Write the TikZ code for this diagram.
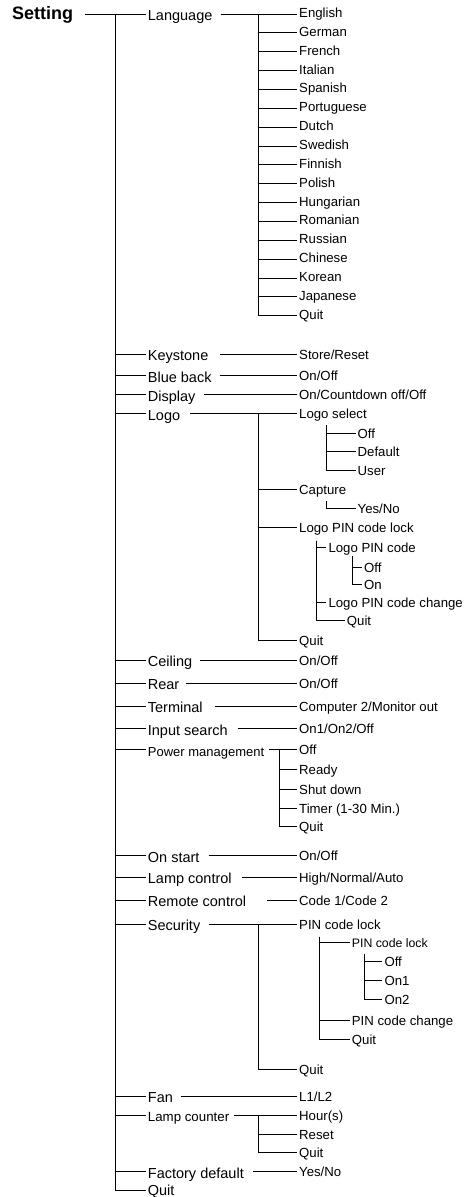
\documentclass[tikz,border=0pt]{standalone}
\usepackage{fontspec}
\setmainfont{Liberation Sans}
\begin{document}
\begin{tikzpicture}[x=1pt,y=-1pt,
  wire/.style={line width=0.9pt},
  lone/.style={anchor=west,inner xsep=2pt,inner ysep=0pt,font=\fontsize{14.5}{16}\selectfont,text height=13pt,text depth=0pt},
  ltwo/.style={anchor=west,inner xsep=2pt,inner ysep=0pt,font=\fontsize{13.2}{15}\selectfont,text height=10pt,text depth=0pt},
  llang/.style={ltwo,text height=9pt,text depth=2pt},
  rootbox/.style={anchor=west,inner xsep=0pt,inner ysep=0pt,font=\bfseries\fontsize{18}{20}\selectfont,text height=13pt,text depth=2.4pt}
]
\useasboundingbox (0,0) rectangle (475,1197);

% root
\node[rootbox] (set) at (12,14) {Setting};

% level 1
\node[lone] (lang) at (145.7,14) {Language};
\node[lone] (kst) at (145.7,354) {Keystone};
\node[lone] (blue) at (145.7,375.5) {Blue back};
\node[lone] (disp) at (145.7,394.5) {Display};
\node[lone] (logo) at (145.7,413.5) {Logo};
\node[lone] (ceil) at (145.7,660) {Ceiling};
\node[lone] (rear) at (145.7,683) {Rear};
\node[lone] (term) at (145.7,706) {Terminal};
\node[lone] (inp) at (145.7,728.5) {Input search};
\node[lone,font=\fontsize{13}{15}\selectfont] (pm) at (145.7,749.5) {Power management};
\node[lone] (ons) at (145.7,855.7) {On start};
\node[lone] (lamp) at (145.7,877) {Lamp control};
\node[lone] (rem) at (145.7,900) {Remote control};
\node[lone] (sec) at (145.7,924) {Security};
\node[lone] (fan) at (145.7,1096) {Fan};
\node[lone,font=\fontsize{13.3}{15}\selectfont] (lc) at (145.7,1115) {Lamp counter};
\node[lone] (fact) at (145.7,1171.5) {Factory default};
\node[lone,text height=10.5pt] (quit) at (145.7,1190) {Quit};

\coordinate (b0) at (115,14);
\draw[wire,shorten <=12pt] (set.east) -- (lang.west);
\foreach \n in {kst,blue,disp,logo,ceil,rear,term,inp,pm,ons,lamp,rem,sec,fan,lc,fact,quit}
  \draw[wire] (b0) |- (\n.west);

% language
\node[llang] (en) at (297,14) {English};
\node[llang] (de) at (297,32.9) {German};
\node[llang] (fr) at (297,51.7) {French};
\node[llang] (it) at (297,70.6) {Italian};
\node[llang] (es) at (297,89.4) {Spanish};
\node[llang] (pt) at (297,108.3) {Portuguese};
\node[llang] (nl) at (297,127.1) {Dutch};
\node[llang] (sv) at (297,146) {Swedish};
\node[llang] (fi) at (297,164.9) {Finnish};
\node[llang] (pl) at (297,183.7) {Polish};
\node[llang] (hu) at (297,202.6) {Hungarian};
\node[llang] (ro) at (297,221.4) {Romanian};
\node[llang] (ru) at (297,240.3) {Russian};
\node[llang] (zh) at (297,259.1) {Chinese};
\node[llang] (ko) at (297,278) {Korean};
\node[llang] (ja) at (297,296.8) {Japanese};
\node[llang] (lq) at (297,315.7) {Quit};
\coordinate (b1) at (258.3,14);
\draw[wire,shorten <=6pt] (lang.east) -- (en.west);
\foreach \n in {de,fr,it,es,pt,nl,sv,fi,pl,hu,ro,ru,zh,ko,ja,lq}
  \draw[wire] (b1) |- (\n.west);

% simple pairs
\node[ltwo] (store) at (297,354) {Store/Reset};
\draw[wire,shorten <=9pt] (kst.east) -- (store.west);
\node[ltwo] (blueo) at (297,375.5) {On/Off};
\draw[wire,shorten <=6pt] (blue.east) -- (blueo.west);
\node[ltwo] (dispo) at (297,394.5) {On/Countdown off/Off};
\draw[wire,shorten <=6.7pt] (disp.east) -- (dispo.west);

% logo
\node[ltwo] (lsel) at (297,413.5) {Logo select};
\node[ltwo] (lsoff) at (355.5,433.3) {Off};
\node[ltwo] (lsdef) at (355.5,451.7) {Default};
\node[ltwo] (lsuser) at (355.5,470.7) {User};
\node[ltwo] (capt) at (297,489) {Capture};
\node[ltwo] (yesno) at (355.5,508.3) {Yes/No};
\node[ltwo] (lpl) at (297,527.3) {Logo PIN code lock};
\node[ltwo] (lpc) at (326.3,547.3) {Logo PIN code};
\node[ltwo] (lpoff) at (362,567) {Off};
\node[ltwo] (lpon) at (362,584) {On};
\node[ltwo] (lpcc) at (326.3,602.7) {Logo PIN code change};
\node[ltwo] (lpq) at (344.7,620.7) {Quit};
\node[ltwo] (logoq) at (297,640) {Quit};

\draw[wire,shorten <=8pt] (logo.east) -- (lsel.west);
\coordinate (b3) at (258.3,413.5);
\foreach \n in {capt,lpl,logoq} \draw[wire] (b3) |- (\n.west);
\coordinate (b4) at (326.7,425);
\foreach \n in {lsoff,lsdef,lsuser} \draw[wire] (b4) |- (\n.west);
\coordinate (b5) at (326.7,501);
\draw[wire] (b5) |- (yesno.west);
\coordinate (b6) at (316,540.7);
\foreach \n in {lpc,lpcc,lpq} \draw[wire] (b6) |- (\n.west);
\coordinate (b7) at (352,556);
\foreach \n in {lpoff,lpon} \draw[wire] (b7) |- (\n.west);

% more pairs
\node[ltwo] (ceilo) at (297,660) {On/Off};
\draw[wire,shorten <=6pt] (ceil.east) -- (ceilo.west);
\node[ltwo] (rearo) at (297,683) {On/Off};
\draw[wire,shorten <=4.3pt] (rear.east) -- (rearo.west);
\node[ltwo] (termo) at (297,706) {Computer 2/Monitor out};
\draw[wire,shorten <=9.7pt] (term.east) -- (termo.west);
\node[ltwo] (inpo) at (297,728.5) {On1/On2/Off};
\draw[wire,shorten <=7.7pt] (inp.east) -- (inpo.west);

% power management
\node[ltwo] (pmoff) at (297,749.5) {Off};
\node[ltwo] (pmready) at (297,769.5) {Ready};
\node[ltwo] (pmshut) at (297,789) {Shut down};
\node[ltwo] (pmtimer) at (297,808.3) {Timer (1-30 Min.)};
\node[ltwo] (pmquit) at (297,826.7) {Quit};
\draw[wire,shorten <=2.5pt] (pm.east) -- (pmoff.west);
\coordinate (b8) at (279,749.5);
\foreach \n in {pmready,pmshut,pmtimer,pmquit} \draw[wire] (b8) |- (\n.west);

\node[ltwo] (onso) at (297,855.7) {On/Off};
\draw[wire,shorten <=7.3pt] (ons.east) -- (onso.west);
\node[ltwo] (lampo) at (297,877) {High/Normal/Auto};
\draw[wire,shorten <=8.3pt] (lamp.east) -- (lampo.west);
\node[ltwo] (remo) at (297,900) {Code 1/Code 2};
\draw[wire,shorten <=19pt] (rem.east) -- (remo.west);

% security
\node[ltwo] (pcl) at (297,924) {PIN code lock};
\node[ltwo,font=\fontsize{12.3}{14}\selectfont] (pcl2) at (349.7,942.5) {PIN code lock};
\node[ltwo] (poff) at (382.3,961.7) {Off};
\node[ltwo] (pon1) at (382.3,980) {On1};
\node[ltwo] (pon2) at (382.3,999.3) {On2};
\node[ltwo] (pcc) at (349.7,1020.7) {PIN code change};
\node[ltwo] (pcq) at (349.7,1039.7) {Quit};
\node[ltwo] (secq) at (297,1069.3) {Quit};
\draw[wire,shorten <=6.7pt] (sec.east) -- (pcl.west);
\coordinate (b9) at (258.3,924);
\draw[wire] (b9) |- (secq.west);
\coordinate (b10) at (319,936.7);
\foreach \n in {pcl2,pcc,pcq} \draw[wire] (b10) |- (\n.west);
\coordinate (b11) at (364.3,954.3);
\foreach \n in {poff,pon1,pon2} \draw[wire] (b11) |- (\n.west);

% fan, lamp counter, factory
\node[ltwo] (fano) at (297,1096) {L1/L2};
\draw[wire,shorten <=5.7pt] (fan.east) -- (fano.west);
\node[ltwo] (lch) at (297,1115) {Hour(s)};
\node[ltwo] (lcr) at (297,1134) {Reset};
\node[ltwo] (lcq) at (297,1152.3) {Quit};
\draw[wire,shorten <=3pt] (lc.east) -- (lch.west);
\coordinate (b12) at (258.3,1115);
\foreach \n in {lcr,lcq} \draw[wire] (b12) |- (\n.west);
\node[ltwo] (facto) at (297,1171.5) {Yes/No};
\draw[wire,shorten <=7.3pt] (fact.east) -- (facto.west);
\end{tikzpicture}
\end{document}
